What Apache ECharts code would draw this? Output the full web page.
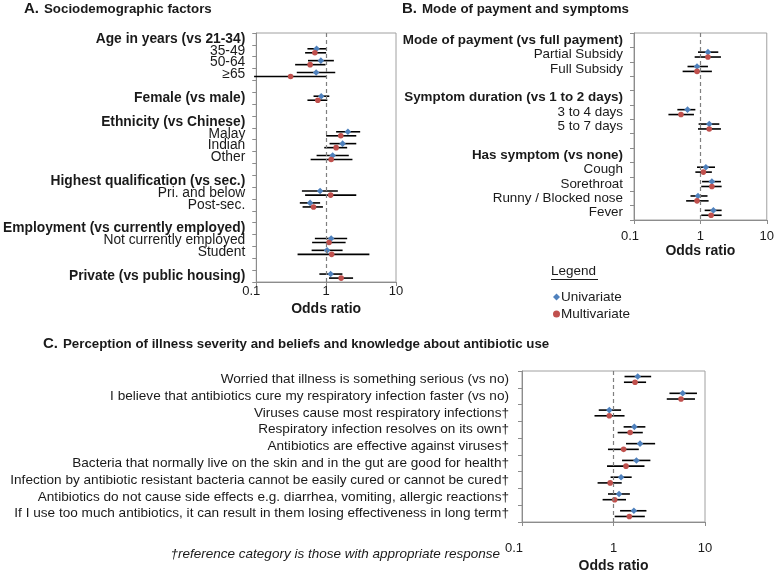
<!DOCTYPE html>
<html>
<head>
<meta charset="utf-8">
<script src="https://cdn.jsdelivr.net/npm/echarts@6/dist/echarts.min.js"></script>
<style>
html,body{margin:0;padding:0;background:#fff;}
#chart{width:777px;height:574px;}
</style>
</head>
<body>
<div id="chart"></div>
<script>
// ---------- Panel A: Sociodemographic factors ----------
var aLabels = ['Age in years (vs 21-34)','35-49','50-64','\u226565','','Female (vs male)','','Ethnicity (vs Chinese)','Malay','Indian','Other','','Highest qualification (vs sec.)','Pri. and below','Post-sec.','','Employment (vs currently employed)','Not currently employed','Student','','Private (vs public housing)'];
var aHeader = [1,0,0,0,0,1,0,1,0,0,0,0,1,0,0,0,1,0,0,0,1];
var aUniOR = [null,0.73,0.84,0.72,null,0.85,null,null,2.05,1.72,1.24,null,null,0.82,0.59,null,null,1.18,1.03,null,1.16];
var aUniLo = [null,0.54,0.55,0.38,null,0.66,null,null,1.39,1.12,0.73,null,null,0.45,0.42,null,null,0.69,0.62,null,0.80];
var aUniHi = [null,1.00,1.29,1.35,null,1.11,null,null,3.07,2.70,2.11,null,null,1.47,0.82,null,null,2.00,1.72,null,1.71];
var aMulOR = [null,0.69,0.59,0.31,null,0.76,null,null,1.62,1.39,1.18,null,null,1.16,0.66,null,null,1.10,1.20,null,1.64];
var aMulLo = [null,0.50,0.36,0.093,null,0.54,null,null,1.00,0.94,0.60,null,null,0.50,0.46,null,null,0.63,0.39,null,1.10];
var aMulHi = [null,1.00,0.98,1.00,null,1.04,null,null,2.70,2.00,2.38,null,null,2.70,0.90,null,null,1.90,4.16,null,2.43];

// ---------- Panel B: Mode of payment and symptoms ----------
var bLabels = ['Mode of payment (vs full payment)','Partial Subsidy','Full Subsidy','','Symptom duration (vs 1 to 2 days)','3 to 4 days','5 to 7 days','','Has symptom (vs none)','Cough','Sorethroat','Runny / Blocked nose','Fever'];
var bHeader = [1,0,0,0,1,0,0,0,1,0,0,0,0];
var bUniOR = [null,1.30,0.89,null,null,0.64,1.36,null,null,1.21,1.49,0.92,1.57];
var bUniLo = [null,0.92,0.64,null,null,0.45,0.94,null,null,0.89,1.06,0.71,1.16];
var bUniHi = [null,1.86,1.30,null,null,0.84,1.93,null,null,1.66,2.04,1.28,2.09];
var bMulOR = [null,1.30,0.89,null,null,0.51,1.36,null,null,1.11,1.49,0.89,1.45];
var bMulLo = [null,0.82,0.54,null,null,0.33,0.92,null,null,0.84,1.03,0.61,1.03];
var bMulHi = [null,2.04,1.49,null,null,0.80,2.04,null,null,1.49,2.09,1.33,2.09];

// ---------- Panel C: Perception and beliefs ----------
var cLabels = ['Worried that illness is something serious (vs no)','I believe that antibiotics cure my respiratory infection faster (vs no)','Viruses cause most respiratory infections\u2020','Respiratory infection resolves on its own\u2020','Antibiotics are effective against viruses\u2020','Bacteria that normally live on the skin and in the gut are good for health\u2020','Infection by antibiotic resistant bacteria cannot be easily cured or cannot be cured\u2020','Antibiotics do not cause side effects e.g. diarrhea, vomiting, allergic reactions\u2020','If I use too much antibiotics, it can result in them losing effectiveness in long term\u2020'];
var cHeader = [0,0,0,0,0,0,0,0,0];
var cUniOR = [1.84,5.71,0.90,1.69,1.95,1.78,1.21,1.15,1.67];
var cUniLo = [1.32,4.09,0.69,1.29,1.37,1.24,0.93,0.87,1.18];
var cUniHi = [2.58,8.17,1.21,2.23,2.85,2.53,1.58,1.51,2.29];
var cMulOR = [1.72,5.47,0.90,1.52,1.29,1.37,0.92,1.03,1.49];
var cMulLo = [1.30,3.82,0.62,1.11,0.87,0.85,0.67,0.76,1.03];
var cMulHi = [2.27,7.77,1.32,2.09,1.89,2.18,1.23,1.37,2.20];

var xTickLabels = {'0.1':'0.1','1':'1','10':'10'};
var seriesNames = ['Univariate','Multivariate'];

var BLUE = '#4F81BD', RED = '#C0504D';
var FONT = 'Liberation Sans, Arial, Helvetica, sans-serif';
var TXT = '#1a1a1a';

function rows(or, lo, hi) {
  var out = [];
  for (var i = 0; i < or.length; i++) {
    if (or[i] != null) out.push([i, or[i], lo[i], hi[i]]);
  }
  return out;
}

function makeRender(n, dir, shape) {
  return function (params, api) {
    var idx = api.value(0);
    var p = api.coord([api.value(1), idx]);
    var pl = api.coord([api.value(2), idx]);
    var ph = api.coord([api.value(3), idx]);
    var band = params.coordSys.height / n;
    var y = p[1] + dir * band * 0.17;
    var children = [{
      type: 'line',
      shape: {x1: pl[0], y1: y, x2: ph[0], y2: y},
      style: {stroke: '#000', lineWidth: 1.6}
    }];
    if (shape === 'diamond') {
      var r = 3.3;
      children.push({type: 'polygon', shape: {points: [[p[0], y - r], [p[0] + r, y], [p[0], y + r], [p[0] - r, y]]}, style: {fill: BLUE}});
    } else {
      children.push({type: 'circle', shape: {cx: p[0], cy: y, r: 2.8}, style: {fill: RED}});
    }
    return {type: 'group', children: children};
  };
}

function yAxisFor(gi, labels, header, margin, fs) {
  return {
    type: 'category', gridIndex: gi, inverse: true,
    data: labels.map(function (l, i) { return String(i); }),
    boundaryGap: true,
    axisLine: {show: true, lineStyle: {color: '#8c8c8c', width: 1}},
    axisTick: {show: true, interval: 0, length: 4, inside: false, lineStyle: {color: '#8c8c8c'}},
    splitLine: {show: false},
    axisLabel: {
      interval: 0, margin: margin,
      formatter: function (v, i) {
        var t = labels[+v];
        if (!t) return '';
        return header[+v] ? '{h|' + t + '}' : '{n|' + t + '}';
      },
      rich: {
        h: {fontFamily: FONT, fontSize: fs, fontWeight: 'bold', color: TXT},
        n: {fontFamily: FONT, fontSize: fs, color: TXT}
      }
    }
  };
}

function xAxisFor(gi, labelMargin, nameGap, firstShift) {
  return {
    type: 'log', logBase: 10, gridIndex: gi, min: 0.1, max: 10, interval: 1,
    axisLine: {show: true, lineStyle: {color: '#8c8c8c', width: 1}},
    axisTick: {show: true, length: 4, inside: false, lineStyle: {color: '#8c8c8c'}},
    splitLine: {show: false},
    minorTick: {show: false},
    axisLabel: {
      margin: labelMargin,
      formatter: function (v) {
        var k = String(+v.toPrecision(3));
        var t = xTickLabels[k] !== undefined ? xTickLabels[k] : '';
        return k === '0.1' ? '{f|' + t + '}' : '{t|' + t + '}';
      },
      rich: {
        t: {fontFamily: FONT, fontSize: 13, color: TXT},
        f: {fontFamily: FONT, fontSize: 13, color: TXT, padding: [0, firstShift * 2, 0, 0]}
      }
    },
    name: 'Odds ratio', nameLocation: 'middle', nameGap: nameGap,
    nameTextStyle: {fontFamily: FONT, fontSize: 14, fontWeight: 'bold', color: TXT}
  };
}

function panelSeries(gi, n, uni, mul) {
  return [{
    type: 'custom', name: seriesNames[0], xAxisIndex: gi, yAxisIndex: gi,
    renderItem: makeRender(n, -1, 'diamond'),
    encode: {x: [1, 2, 3], y: 0},
    itemStyle: {color: BLUE},
    data: rows(uni[0], uni[1], uni[2]),
    silent: true, z: 3,
    markLine: {
      silent: true, symbol: ['none', 'none'], label: {show: false},
      lineStyle: {color: '#7f7f7f', type: [4, 3], width: 1.2},
      data: [{xAxis: 1}], animation: false
    }
  }, {
    type: 'custom', name: seriesNames[1], xAxisIndex: gi, yAxisIndex: gi,
    renderItem: makeRender(n, 1, 'circle'),
    encode: {x: [1, 2, 3], y: 0},
    itemStyle: {color: RED},
    data: rows(mul[0], mul[1], mul[2]),
    silent: true, z: 3
  }];
}

var gridStyle = {show: true, borderColor: '#a0a0a0', borderWidth: 1, backgroundColor: 'transparent'};
var titleRich = {a: {fontFamily: FONT, fontSize: 15, fontWeight: 'bold', color: TXT}, b: {fontFamily: FONT, fontSize: 13.3, fontWeight: 'bold', color: TXT}};

var option = {
  animation: false,
  backgroundColor: '#fff',
  title: [
    {text: '{a|A.} {b|Sociodemographic factors}', left: 24, top: 0, padding: 0, textStyle: {rich: titleRich}},
    {text: '{a|B.} {b|Mode of payment and symptoms}', left: 402, top: 0, padding: 0, textStyle: {rich: titleRich}},
    {text: '{a|C.} {b|Perception of illness severity and beliefs and knowledge about antibiotic use}', left: 43, top: 335, padding: 0, textStyle: {rich: titleRich}}
  ],
  legend: {
    orient: 'vertical', left: 548, top: 285, itemWidth: 7, itemHeight: 7, itemGap: 3,
    data: [{name: 'Univariate', icon: 'diamond'}, {name: 'Multivariate', icon: 'circle'}],
    textStyle: {fontFamily: FONT, fontSize: 13.5, color: TXT, padding: [0, 0, 0, -4]},
    selectedMode: false
  },
  graphic: [
    {type: 'text', left: 551, top: 264, style: {text: 'Legend', font: '13.5px ' + FONT, fill: TXT}},
    {type: 'line', shape: {x1: 551, y1: 279.5, x2: 598, y2: 279.5}, style: {stroke: TXT, lineWidth: 1}},
    {type: 'text', right: 777 - 500, top: 547, style: {text: '\u2020reference category is those with appropriate response', font: 'italic 13.5px ' + FONT, fill: TXT, textAlign: 'right'}}
  ],
  grid: [
    Object.assign({left: 254, top: 33, width: 142, height: 249}, gridStyle),
    Object.assign({left: 634, top: 33, width: 136, height: 187}, gridStyle),
    Object.assign({left: 522, top: 371, width: 183, height: 157}, gridStyle)
  ],
  xAxis: [xAxisFor(0, 3, 20, 5), xAxisFor(1, 10, 22, 4), xAxisFor(2, 20, 37, 8)],
  yAxis: [
    yAxisFor(0, aLabels, aHeader, 11, 13.8),
    yAxisFor(1, bLabels, bHeader, 11, 13.4),
    yAxisFor(2, cLabels, cHeader, 13, 13.6)
  ],
  series: [].concat(
    panelSeries(0, aLabels.length, [aUniOR, aUniLo, aUniHi], [aMulOR, aMulLo, aMulHi]),
    panelSeries(1, bLabels.length, [bUniOR, bUniLo, bUniHi], [bMulOR, bMulLo, bMulHi]),
    panelSeries(2, cLabels.length, [cUniOR, cUniLo, cUniHi], [cMulOR, cMulLo, cMulHi])
  )
};

var chart = echarts.init(document.getElementById('chart'), null, {renderer: 'canvas'});
chart.setOption(option);
</script>
</body>
</html>
